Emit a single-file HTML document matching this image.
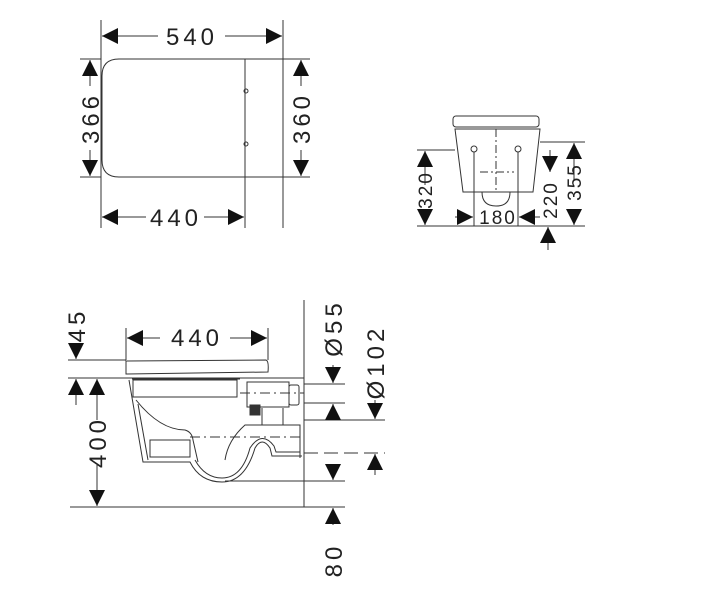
<!DOCTYPE html>
<html><head><meta charset="utf-8"><style>
html,body{margin:0;padding:0;background:#fff;}
svg{display:block}
text{font-family:"Liberation Sans",sans-serif;font-size:24px;fill:#222;letter-spacing:4px}
</style></head><body>
<svg width="715" height="600" viewBox="0 0 715 600" xmlns="http://www.w3.org/2000/svg">
<defs>
<marker id="a" viewBox="0 0 10 10" refX="10" refY="5" markerWidth="16" markerHeight="16" markerUnits="userSpaceOnUse" orient="auto"><path d="M0,0L10,5L0,10z" fill="#111"/></marker>
</defs>
<g stroke="#333" stroke-width="1" fill="none">
<!-- TOP VIEW -->
<line x1="101" y1="20" x2="101" y2="228"/>
<line x1="283" y1="20" x2="283" y2="228"/>
<line x1="245" y1="177" x2="245" y2="228"/>
<path d="M119,59 H245 V177 H119 Q102,177 102,160 V76 Q102,59 119,59Z"/>
<line x1="245" y1="59" x2="283" y2="59"/><line x1="245" y1="177" x2="283" y2="177"/>
<circle cx="246" cy="91" r="2"/><circle cx="246" cy="144" r="2"/>
<line x1="80" y1="59" x2="101" y2="59"/><line x1="80" y1="177" x2="101" y2="177"/>
<line x1="283" y1="59" x2="310" y2="59"/><line x1="283" y1="177" x2="310" y2="177"/>
<line x1="158" y1="36" x2="102" y2="36" marker-end="url(#a)"/>
<line x1="225" y1="36" x2="282" y2="36" marker-end="url(#a)"/>
<line x1="146" y1="217" x2="102" y2="217" marker-end="url(#a)"/>
<line x1="204" y1="217" x2="244" y2="217" marker-end="url(#a)"/>
<line x1="90" y1="86" x2="90" y2="60" marker-end="url(#a)"/>
<line x1="90" y1="150" x2="90" y2="176" marker-end="url(#a)"/>
<line x1="301" y1="86" x2="301" y2="60" marker-end="url(#a)"/>
<line x1="301" y1="150" x2="301" y2="176" marker-end="url(#a)"/>

<!-- FRONT VIEW -->
<rect x="453" y="116" width="86" height="11" rx="3"/>
<path d="M455,129 H540 L533,192 H463 Z"/>
<path d="M482,192 Q482,206 496,206 Q510,206 510,192"/>
<line x1="496" y1="129" x2="496" y2="192" stroke-dasharray="8 3 2 3"/>
<line x1="480" y1="172" x2="514" y2="172" stroke-dasharray="8 3 2 3"/>
<line x1="474" y1="152" x2="474" y2="226"/><line x1="518" y1="152" x2="518" y2="226"/>
<circle cx="474" cy="149" r="3"/><circle cx="518" cy="149" r="3"/>
<line x1="417" y1="226" x2="585" y2="226"/>
<line x1="417" y1="150" x2="455" y2="150"/>
<line x1="540" y1="142" x2="585" y2="142"/>
<line x1="425" y1="185" x2="425" y2="151" marker-end="url(#a)"/>
<line x1="425" y1="212" x2="425" y2="225" marker-end="url(#a)"/>
<line x1="574" y1="180" x2="574" y2="143" marker-end="url(#a)"/>
<line x1="574" y1="212" x2="574" y2="225" marker-end="url(#a)"/>
<line x1="550" y1="150" x2="550" y2="172" marker-end="url(#a)"/>
<line x1="548" y1="250" x2="548" y2="227" marker-end="url(#a)"/>
<line x1="455" y1="217" x2="473" y2="217" marker-end="url(#a)"/>
<line x1="540" y1="217" x2="519" y2="217" marker-end="url(#a)"/>

<!-- SIDE VIEW -->
<line x1="304" y1="300" x2="304" y2="507"/>
<line x1="70" y1="507" x2="304" y2="507"/>
<path d="M126,361 L266,360 Q269,361 268,372 L126,374 Z"/>
<line x1="126" y1="328" x2="126" y2="360"/><line x1="268" y1="328" x2="268" y2="360"/>
<line x1="68" y1="360" x2="126" y2="360"/>
<line x1="68" y1="378" x2="304" y2="378"/>
<line x1="160" y1="338" x2="127" y2="338" marker-end="url(#a)"/>
<line x1="230" y1="338" x2="267" y2="338" marker-end="url(#a)"/>
<line x1="76" y1="345" x2="76" y2="359" marker-end="url(#a)"/>
<line x1="76" y1="405" x2="76" y2="379" marker-end="url(#a)"/>
<line x1="97" y1="420" x2="97" y2="379" marker-end="url(#a)"/>
<line x1="97" y1="465" x2="97" y2="506" marker-end="url(#a)"/>
<!-- bowl -->
<path d="M132,379 H240 M129,380 L143,462 H190 Q200,482 222,482 Q245,482 255,448 Q262,436 270,448 L272,456 H302"/>
<path d="M195,460 Q205,478 222,478 Q242,478 250,448 Q262,430 274,446 L276,452 H300"/>
<rect x="133" y="380" width="104" height="17"/>
<path d="M136,400 Q160,430 185,430 Q192,432 193,440 L198,462"/>
<path d="M138,404 L148,460"/>
<rect x="150" y="440" width="40" height="17"/>
<path d="M225,460 Q228,440 245,425 H300 V458"/>
<rect x="247" y="382" width="42" height="25"/>
<rect x="289" y="385" width="10" height="20" rx="2"/>
<rect x="250" y="405" width="10" height="10" fill="#333"/>
<line x1="262" y1="408" x2="262" y2="425"/><line x1="283" y1="408" x2="283" y2="425"/>
<line x1="190" y1="437" x2="300" y2="437" stroke-dasharray="10 4 2 4"/>
<line x1="240" y1="393" x2="304" y2="393" stroke-dasharray="10 4 2 4"/>
<!-- right dims -->
<line x1="304" y1="384" x2="345" y2="384"/>
<line x1="304" y1="403" x2="345" y2="403"/>
<line x1="304" y1="420" x2="385" y2="420"/>
<line x1="304" y1="453" x2="385" y2="453" stroke-dasharray="14 6"/>
<line x1="225" y1="481" x2="345" y2="481"/>
<line x1="304" y1="507" x2="345" y2="507"/>
<line x1="333" y1="365" x2="333" y2="383" marker-end="url(#a)"/>
<line x1="333" y1="420" x2="333" y2="404" marker-end="url(#a)"/>
<line x1="333" y1="465" x2="333" y2="480" marker-end="url(#a)"/>
<line x1="333" y1="525" x2="333" y2="508" marker-end="url(#a)"/>
<line x1="375" y1="400" x2="375" y2="419" marker-end="url(#a)"/>
<line x1="375" y1="475" x2="375" y2="454" marker-end="url(#a)"/>
</g>
<g>
<text x="192" y="45" text-anchor="middle">540</text>
<text x="176" y="226" text-anchor="middle">440</text>
<text transform="translate(99,118) rotate(-90)" text-anchor="middle">366</text>
<text transform="translate(310,118) rotate(-90)" text-anchor="middle">360</text>
<text x="197" y="346" text-anchor="middle">440</text>
<text transform="translate(85,325) rotate(-90)" text-anchor="middle">45</text>
<text transform="translate(106,442) rotate(-90)" text-anchor="middle">400</text>
<text transform="translate(342,328) rotate(-90)" text-anchor="middle">Ø55</text>
<text transform="translate(384,362) rotate(-90)" text-anchor="middle">Ø102</text>
<text transform="translate(342,560) rotate(-90)" text-anchor="middle">80</text>
<text x="498" y="224" text-anchor="middle" style="font-size:19px;letter-spacing:2px">180</text>
<text transform="translate(432,190) rotate(-90)" text-anchor="middle" style="font-size:19px;letter-spacing:2px">320</text>
<text transform="translate(557,200) rotate(-90)" text-anchor="middle" style="font-size:19px;letter-spacing:2px">220</text>
<text transform="translate(581,182) rotate(-90)" text-anchor="middle" style="font-size:19px;letter-spacing:2px">355</text>
</g>
</svg>
</body></html>
